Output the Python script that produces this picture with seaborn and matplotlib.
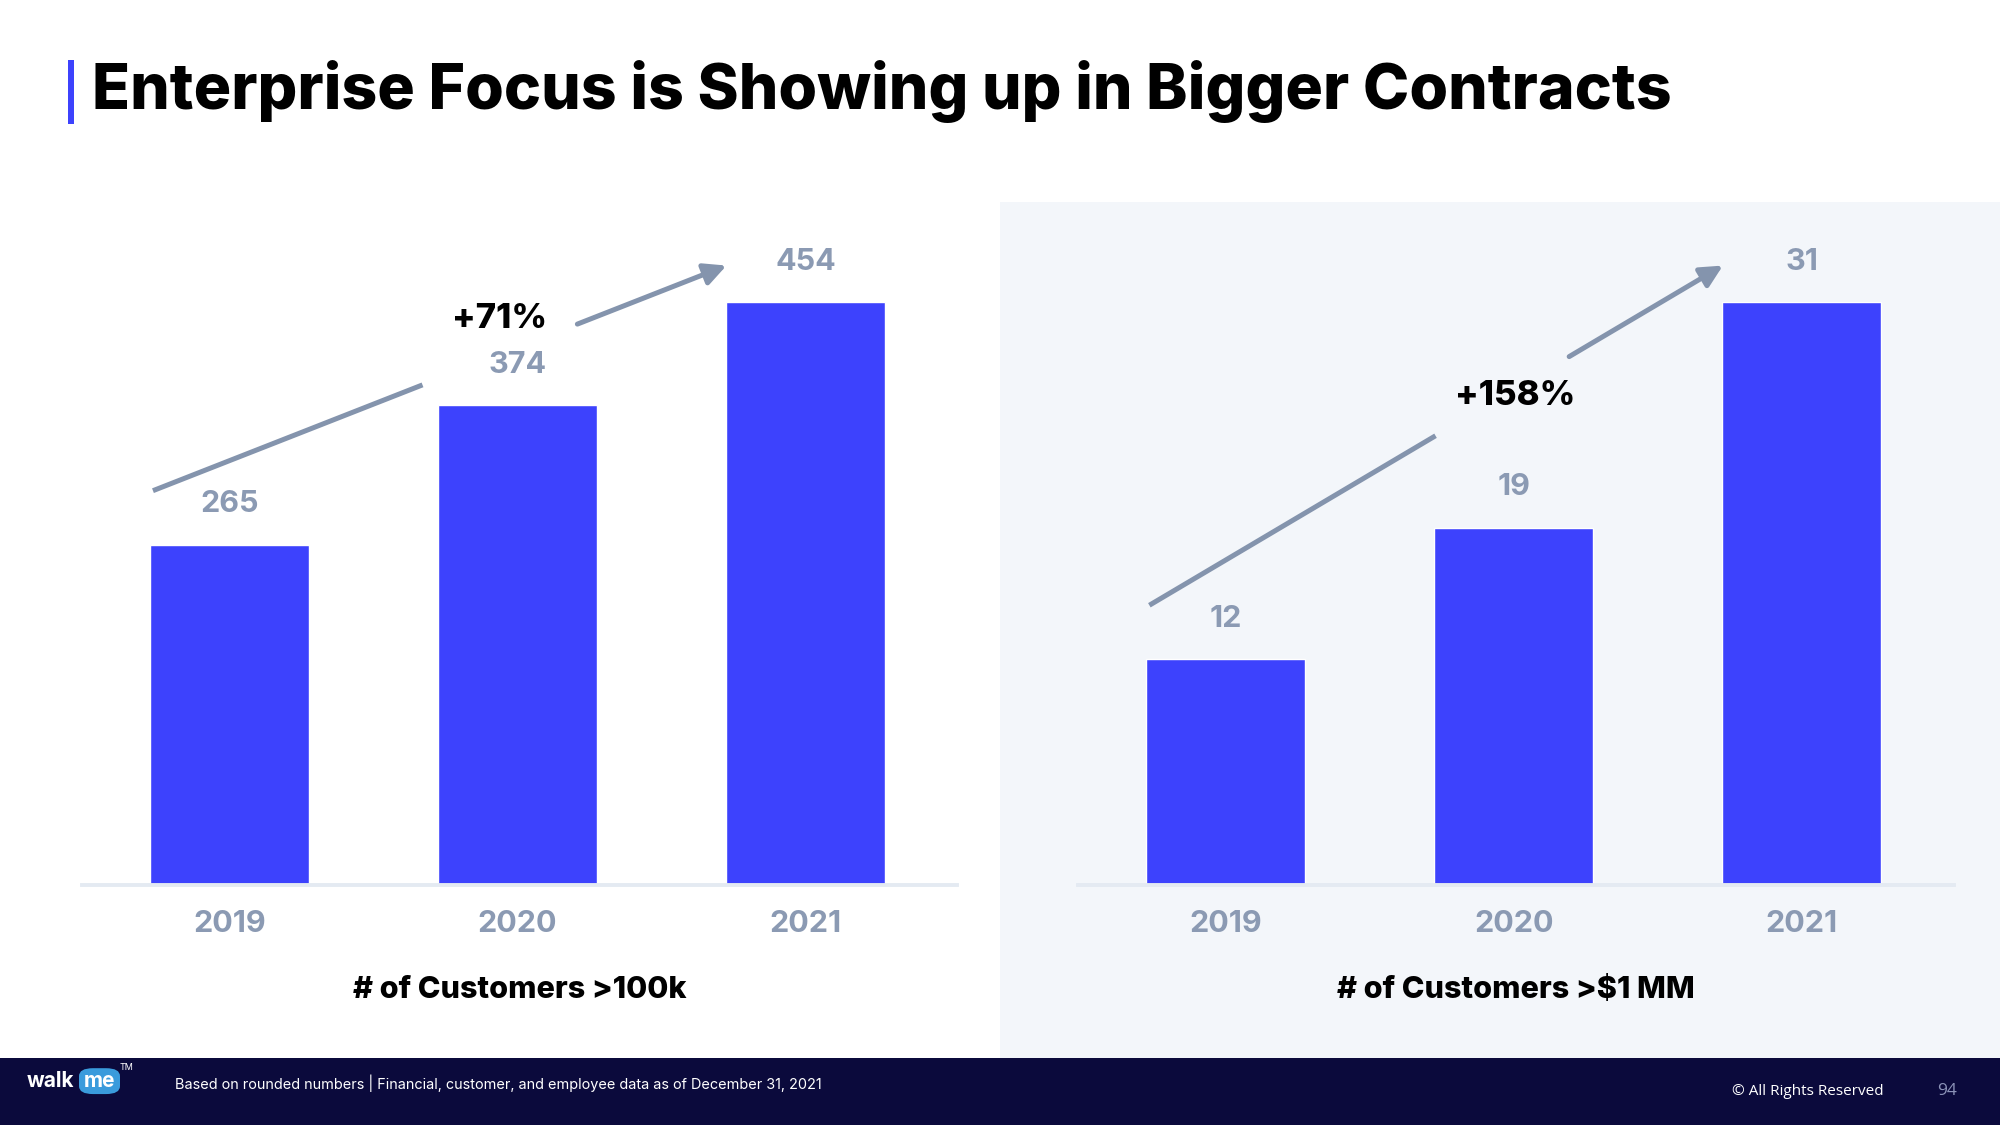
import matplotlib
matplotlib.use("Agg")
import matplotlib.pyplot as plt
import seaborn as sns
import pandas as pd
from matplotlib.patches import Rectangle, FancyBboxPatch

# data
years = ["2019", "2020", "2021"]
cust_100k = [265, 374, 454]
cust_1mm = [12, 19, 31]
growth_labels = ["+71%", "+158%"]
panel_titles = ["# of Customers >100k", "# of Customers >$1 MM"]

BAR = "#3D42FD"
LABEL = "#8B9AB3"
ARROW = "#8494AD"
PANEL_BG = "#F3F6FA"
FOOTER = "#0B0A3C"

sns.set_theme(style="white")
plt.rcParams['font.family'] = ['Inter', 'DejaVu Sans']

fig = plt.figure(figsize=(20, 11.25), dpi=100)
fig.patch.set_facecolor("white")

# right panel background and footer band (behind the axes)
fig.patches.append(Rectangle((0.5, 0.0596), 0.5, 0.7608, transform=fig.transFigure,
                             facecolor=PANEL_BG, edgecolor="none", zorder=-2))
fig.patches.append(Rectangle((0, 0), 1, 0.0596, transform=fig.transFigure,
                             facecolor=FOOTER, edgecolor="none", zorder=-2))

# title with accent bar
fig.patches.append(Rectangle((0.034, 0.8898), 0.003, 0.0569, transform=fig.transFigure,
                             facecolor=BAR, edgecolor="none"))
fig.text(0.046, 0.919, "Enterprise Focus is Showing up in Bigger Contracts",
         fontsize=45, fontweight="heavy", color="black", va="center", ha="left")

# per panel: axes left edge, values, text position of the growth label, gap on the arrow
panels = [
    (0.0408, cust_100k, (0.477, 0.972), (0.47, 0.74)),
    (0.539, cust_1mm, (0.4993, 0.840), (0.499, 0.732)),
]
for i, (left, vals, txt_pos, gap) in enumerate(panels):
    ax = fig.add_axes([left, 0.2133, 0.4378, 0.518])
    ax.set_facecolor("none")
    df = pd.DataFrame({"year": years, "value": vals})
    sns.barplot(data=df, x="year", y="value", color=BAR, width=0.553,
                saturation=1, ax=ax)
    ax.set_xlim(-0.513, 2.527)
    ax.set_ylim(0, max(vals))
    ax.bar_label(ax.containers[0], padding=19, fontsize=22, fontweight="bold",
                 color=LABEL)
    for s in ["top", "right", "left"]:
        ax.spines[s].set_visible(False)
    ax.spines["bottom"].set_color("#E4EAF2")
    ax.spines["bottom"].set_linewidth(2.8)
    ax.set_yticks([])
    ax.set_ylabel("")
    ax.tick_params(axis="x", length=0, pad=18, labelsize=22, labelcolor=LABEL)
    for t in ax.get_xticklabels():
        t.set_fontweight("bold")
    ax.set_xlabel(panel_titles[i], fontsize=22, fontweight="heavy", color="black",
                  labelpad=27)

    # growth arrow, broken around the percentage
    x0, y0 = 0.0815, vals[0] / max(vals) + 0.093
    x1, y1 = 0.7365, 1.063
    ta, tb = gap
    ax.plot([x0, x0 + ta * (x1 - x0)], [y0, y0 + ta * (y1 - y0)], color=ARROW,
            lw=3.6, transform=ax.transAxes, clip_on=False, solid_capstyle="butt")
    ax.annotate("", xy=(x1, y1), xytext=(x0 + tb * (x1 - x0), y0 + tb * (y1 - y0)),
                xycoords="axes fraction", textcoords="axes fraction",
                arrowprops=dict(arrowstyle="-|>,head_length=1.1,head_width=0.55",
                                color=ARROW, lw=3.6, shrinkA=0, shrinkB=0),
                annotation_clip=False)
    ax.text(txt_pos[0], txt_pos[1], growth_labels[i], transform=ax.transAxes,
            ha="center", va="center", fontsize=25, fontweight="heavy", color="black")

# footer
fig.text(0.0135, 0.0395, "walk", fontsize=15, color="white", va="center", ha="left",
         fontweight="bold")
fig.patches.append(FancyBboxPatch((0.0405, 0.0285), 0.0185, 0.021,
                                  boxstyle="round,pad=0.001,rounding_size=0.007",
                                  transform=fig.transFigure, facecolor="#3A9BDC",
                                  edgecolor="none"))
fig.text(0.0498, 0.0395, "me", fontsize=15, color="white", va="center", ha="center",
         fontweight="bold")
fig.text(0.0600, 0.0515, "TM", fontsize=6.5, color="white", va="center", ha="left")
fig.text(0.0875, 0.0375, "Based on rounded numbers | Financial, customer, and employee data as of December 31, 2021",
         fontsize=10.4, color="white", va="center", ha="left")
fig.text(0.942, 0.0295, "\u00a9 All Rights Reserved", fontsize=11, color="white",
         va="center", ha="right", family=["Open Sans", "DejaVu Sans"])
fig.text(0.9735, 0.0305, "94", fontsize=12.5, color="#8C93B8", va="center", ha="center",
         family=["Open Sans", "DejaVu Sans"])

fig.savefig("out.png", dpi=100, facecolor=fig.get_facecolor())
